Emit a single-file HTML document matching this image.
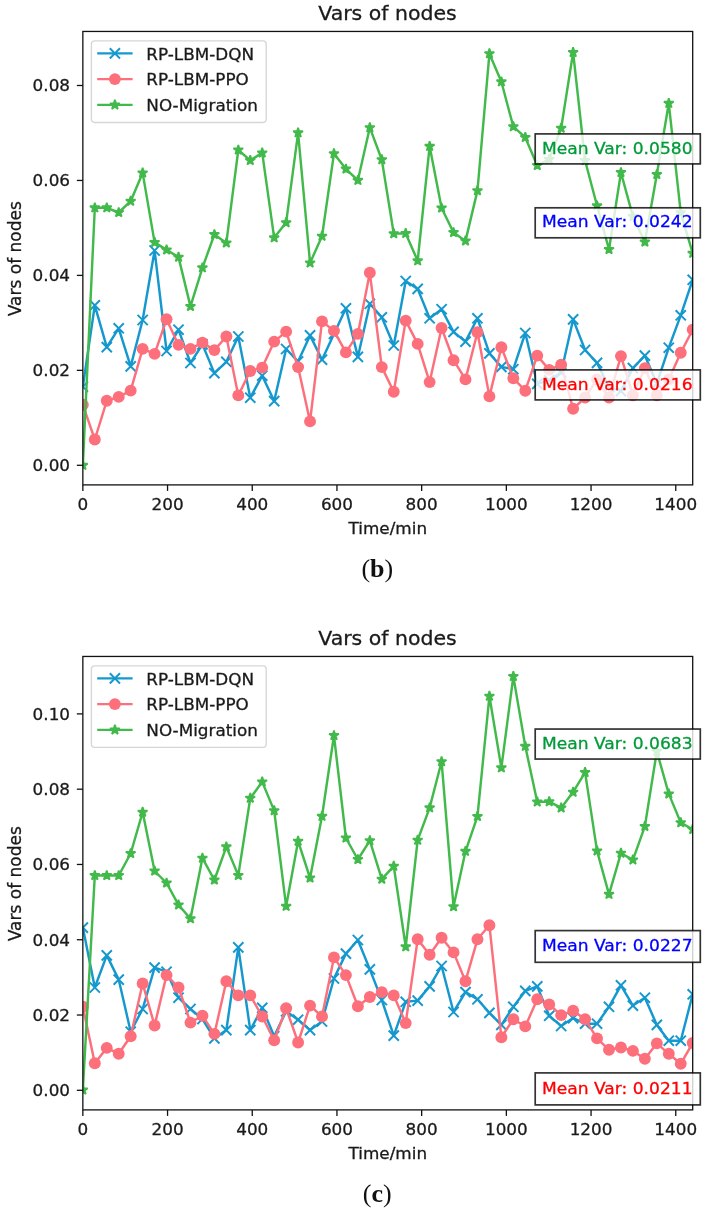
<!DOCTYPE html>
<html><head><meta charset="utf-8"><title>Vars of nodes</title>
<style>
html,body{margin:0;padding:0;background:#fff;}
svg{display:block;font-family:"DejaVu Sans", "Liberation Sans", sans-serif;will-change:transform;}
</style></head>
<body>
<svg width="707" height="1215" viewBox="0 0 707 1215">
<rect width="707" height="1215" fill="#fff"/>
<clipPath id="clip1"><rect x="82.85" y="31.45" width="609.85" height="453.45"/></clipPath>
<text transform="translate(387.48,19.90) scale(1.035,1)" font-size="19.8" text-anchor="middle" fill="#1a1a1a" stroke="#1a1a1a" stroke-width="0.3">Vars of nodes</text>
<g clip-path="url(#clip1)">
<polyline points="82.85,386.70 94.81,305.30 106.77,347.10 118.72,328.30 130.68,366.40 142.64,320.00 154.60,250.50 166.55,351.00 178.51,329.70 190.47,363.00 202.43,344.40 214.39,373.10 226.34,361.80 238.30,336.50 250.26,397.70 262.22,375.70 274.18,401.10 286.13,349.00 298.09,361.50 310.05,335.40 322.01,359.70 333.96,333.90 345.92,308.30 357.88,356.90 369.84,303.80 381.80,317.30 393.75,345.50 405.71,281.00 417.67,288.90 429.63,318.30 441.59,309.20 453.54,331.90 465.50,341.60 477.46,318.30 489.42,353.40 501.37,366.90 513.33,369.20 525.29,333.00 537.25,383.90 549.21,380.40 561.16,372.60 573.12,319.40 585.08,350.00 597.04,362.90 609.00,387.10 620.95,391.20 632.91,368.10 644.87,355.60 656.83,383.50 668.78,347.70 680.74,315.30 692.70,279.80" fill="none" stroke="#1598ce" stroke-width="2.45" stroke-linejoin="round" stroke-linecap="square"/>
<path d="M77.75,381.60L87.95,391.80M77.75,391.80L87.95,381.60" stroke="#1598ce" stroke-width="1.95" fill="none"/>
<path d="M89.71,300.20L99.91,310.40M89.71,310.40L99.91,300.20" stroke="#1598ce" stroke-width="1.95" fill="none"/>
<path d="M101.67,342.00L111.87,352.20M101.67,352.20L111.87,342.00" stroke="#1598ce" stroke-width="1.95" fill="none"/>
<path d="M113.62,323.20L123.82,333.40M113.62,333.40L123.82,323.20" stroke="#1598ce" stroke-width="1.95" fill="none"/>
<path d="M125.58,361.30L135.78,371.50M125.58,371.50L135.78,361.30" stroke="#1598ce" stroke-width="1.95" fill="none"/>
<path d="M137.54,314.90L147.74,325.10M137.54,325.10L147.74,314.90" stroke="#1598ce" stroke-width="1.95" fill="none"/>
<path d="M149.50,245.40L159.70,255.60M149.50,255.60L159.70,245.40" stroke="#1598ce" stroke-width="1.95" fill="none"/>
<path d="M161.45,345.90L171.65,356.10M161.45,356.10L171.65,345.90" stroke="#1598ce" stroke-width="1.95" fill="none"/>
<path d="M173.41,324.60L183.61,334.80M173.41,334.80L183.61,324.60" stroke="#1598ce" stroke-width="1.95" fill="none"/>
<path d="M185.37,357.90L195.57,368.10M185.37,368.10L195.57,357.90" stroke="#1598ce" stroke-width="1.95" fill="none"/>
<path d="M197.33,339.30L207.53,349.50M197.33,349.50L207.53,339.30" stroke="#1598ce" stroke-width="1.95" fill="none"/>
<path d="M209.29,368.00L219.49,378.20M209.29,378.20L219.49,368.00" stroke="#1598ce" stroke-width="1.95" fill="none"/>
<path d="M221.24,356.70L231.44,366.90M221.24,366.90L231.44,356.70" stroke="#1598ce" stroke-width="1.95" fill="none"/>
<path d="M233.20,331.40L243.40,341.60M233.20,341.60L243.40,331.40" stroke="#1598ce" stroke-width="1.95" fill="none"/>
<path d="M245.16,392.60L255.36,402.80M245.16,402.80L255.36,392.60" stroke="#1598ce" stroke-width="1.95" fill="none"/>
<path d="M257.12,370.60L267.32,380.80M257.12,380.80L267.32,370.60" stroke="#1598ce" stroke-width="1.95" fill="none"/>
<path d="M269.08,396.00L279.28,406.20M269.08,406.20L279.28,396.00" stroke="#1598ce" stroke-width="1.95" fill="none"/>
<path d="M281.03,343.90L291.23,354.10M281.03,354.10L291.23,343.90" stroke="#1598ce" stroke-width="1.95" fill="none"/>
<path d="M292.99,356.40L303.19,366.60M292.99,366.60L303.19,356.40" stroke="#1598ce" stroke-width="1.95" fill="none"/>
<path d="M304.95,330.30L315.15,340.50M304.95,340.50L315.15,330.30" stroke="#1598ce" stroke-width="1.95" fill="none"/>
<path d="M316.91,354.60L327.11,364.80M316.91,364.80L327.11,354.60" stroke="#1598ce" stroke-width="1.95" fill="none"/>
<path d="M328.86,328.80L339.06,339.00M328.86,339.00L339.06,328.80" stroke="#1598ce" stroke-width="1.95" fill="none"/>
<path d="M340.82,303.20L351.02,313.40M340.82,313.40L351.02,303.20" stroke="#1598ce" stroke-width="1.95" fill="none"/>
<path d="M352.78,351.80L362.98,362.00M352.78,362.00L362.98,351.80" stroke="#1598ce" stroke-width="1.95" fill="none"/>
<path d="M364.74,298.70L374.94,308.90M364.74,308.90L374.94,298.70" stroke="#1598ce" stroke-width="1.95" fill="none"/>
<path d="M376.70,312.20L386.90,322.40M376.70,322.40L386.90,312.20" stroke="#1598ce" stroke-width="1.95" fill="none"/>
<path d="M388.65,340.40L398.85,350.60M388.65,350.60L398.85,340.40" stroke="#1598ce" stroke-width="1.95" fill="none"/>
<path d="M400.61,275.90L410.81,286.10M400.61,286.10L410.81,275.90" stroke="#1598ce" stroke-width="1.95" fill="none"/>
<path d="M412.57,283.80L422.77,294.00M412.57,294.00L422.77,283.80" stroke="#1598ce" stroke-width="1.95" fill="none"/>
<path d="M424.53,313.20L434.73,323.40M424.53,323.40L434.73,313.20" stroke="#1598ce" stroke-width="1.95" fill="none"/>
<path d="M436.49,304.10L446.69,314.30M436.49,314.30L446.69,304.10" stroke="#1598ce" stroke-width="1.95" fill="none"/>
<path d="M448.44,326.80L458.64,337.00M448.44,337.00L458.64,326.80" stroke="#1598ce" stroke-width="1.95" fill="none"/>
<path d="M460.40,336.50L470.60,346.70M460.40,346.70L470.60,336.50" stroke="#1598ce" stroke-width="1.95" fill="none"/>
<path d="M472.36,313.20L482.56,323.40M472.36,323.40L482.56,313.20" stroke="#1598ce" stroke-width="1.95" fill="none"/>
<path d="M484.32,348.30L494.52,358.50M484.32,358.50L494.52,348.30" stroke="#1598ce" stroke-width="1.95" fill="none"/>
<path d="M496.27,361.80L506.47,372.00M496.27,372.00L506.47,361.80" stroke="#1598ce" stroke-width="1.95" fill="none"/>
<path d="M508.23,364.10L518.43,374.30M508.23,374.30L518.43,364.10" stroke="#1598ce" stroke-width="1.95" fill="none"/>
<path d="M520.19,327.90L530.39,338.10M520.19,338.10L530.39,327.90" stroke="#1598ce" stroke-width="1.95" fill="none"/>
<path d="M532.15,378.80L542.35,389.00M532.15,389.00L542.35,378.80" stroke="#1598ce" stroke-width="1.95" fill="none"/>
<path d="M544.11,375.30L554.31,385.50M544.11,385.50L554.31,375.30" stroke="#1598ce" stroke-width="1.95" fill="none"/>
<path d="M556.06,367.50L566.26,377.70M556.06,377.70L566.26,367.50" stroke="#1598ce" stroke-width="1.95" fill="none"/>
<path d="M568.02,314.30L578.22,324.50M568.02,324.50L578.22,314.30" stroke="#1598ce" stroke-width="1.95" fill="none"/>
<path d="M579.98,344.90L590.18,355.10M579.98,355.10L590.18,344.90" stroke="#1598ce" stroke-width="1.95" fill="none"/>
<path d="M591.94,357.80L602.14,368.00M591.94,368.00L602.14,357.80" stroke="#1598ce" stroke-width="1.95" fill="none"/>
<path d="M603.90,382.00L614.10,392.20M603.90,392.20L614.10,382.00" stroke="#1598ce" stroke-width="1.95" fill="none"/>
<path d="M615.85,386.10L626.05,396.30M615.85,396.30L626.05,386.10" stroke="#1598ce" stroke-width="1.95" fill="none"/>
<path d="M627.81,363.00L638.01,373.20M627.81,373.20L638.01,363.00" stroke="#1598ce" stroke-width="1.95" fill="none"/>
<path d="M639.77,350.50L649.97,360.70M639.77,360.70L649.97,350.50" stroke="#1598ce" stroke-width="1.95" fill="none"/>
<path d="M651.73,378.40L661.93,388.60M651.73,388.60L661.93,378.40" stroke="#1598ce" stroke-width="1.95" fill="none"/>
<path d="M663.68,342.60L673.88,352.80M663.68,352.80L673.88,342.60" stroke="#1598ce" stroke-width="1.95" fill="none"/>
<path d="M675.64,310.20L685.84,320.40M675.64,320.40L685.84,310.20" stroke="#1598ce" stroke-width="1.95" fill="none"/>
<path d="M687.60,274.70L697.80,284.90M687.60,284.90L697.80,274.70" stroke="#1598ce" stroke-width="1.95" fill="none"/>
</g>
<g clip-path="url(#clip1)">
<polyline points="82.85,404.80 94.81,439.50 106.77,400.80 118.72,396.90 130.68,390.60 142.64,348.90 154.60,353.90 166.55,319.30 178.51,344.90 190.47,348.90 202.43,342.60 214.39,350.10 226.34,336.50 238.30,395.40 250.26,371.00 262.22,367.60 274.18,341.60 286.13,331.60 298.09,367.10 310.05,421.40 322.01,321.40 333.96,330.90 345.92,352.40 357.88,333.90 369.84,272.80 381.80,367.10 393.75,391.70 405.71,320.60 417.67,343.90 429.63,382.10 441.59,328.00 453.54,360.20 465.50,379.40 477.46,332.30 489.42,396.40 501.37,347.30 513.33,378.30 525.29,390.70 537.25,355.60 549.21,369.90 561.16,364.70 573.12,408.80 585.08,397.50 597.04,379.40 609.00,397.50 620.95,356.10 632.91,395.20 644.87,368.10 656.83,395.20 668.78,379.40 680.74,352.70 692.70,329.60" fill="none" stroke="#fc6f7b" stroke-width="2.45" stroke-linejoin="round" stroke-linecap="square"/>
<circle cx="82.85" cy="404.80" r="5.95" fill="#fc6f7b"/>
<circle cx="94.81" cy="439.50" r="5.95" fill="#fc6f7b"/>
<circle cx="106.77" cy="400.80" r="5.95" fill="#fc6f7b"/>
<circle cx="118.72" cy="396.90" r="5.95" fill="#fc6f7b"/>
<circle cx="130.68" cy="390.60" r="5.95" fill="#fc6f7b"/>
<circle cx="142.64" cy="348.90" r="5.95" fill="#fc6f7b"/>
<circle cx="154.60" cy="353.90" r="5.95" fill="#fc6f7b"/>
<circle cx="166.55" cy="319.30" r="5.95" fill="#fc6f7b"/>
<circle cx="178.51" cy="344.90" r="5.95" fill="#fc6f7b"/>
<circle cx="190.47" cy="348.90" r="5.95" fill="#fc6f7b"/>
<circle cx="202.43" cy="342.60" r="5.95" fill="#fc6f7b"/>
<circle cx="214.39" cy="350.10" r="5.95" fill="#fc6f7b"/>
<circle cx="226.34" cy="336.50" r="5.95" fill="#fc6f7b"/>
<circle cx="238.30" cy="395.40" r="5.95" fill="#fc6f7b"/>
<circle cx="250.26" cy="371.00" r="5.95" fill="#fc6f7b"/>
<circle cx="262.22" cy="367.60" r="5.95" fill="#fc6f7b"/>
<circle cx="274.18" cy="341.60" r="5.95" fill="#fc6f7b"/>
<circle cx="286.13" cy="331.60" r="5.95" fill="#fc6f7b"/>
<circle cx="298.09" cy="367.10" r="5.95" fill="#fc6f7b"/>
<circle cx="310.05" cy="421.40" r="5.95" fill="#fc6f7b"/>
<circle cx="322.01" cy="321.40" r="5.95" fill="#fc6f7b"/>
<circle cx="333.96" cy="330.90" r="5.95" fill="#fc6f7b"/>
<circle cx="345.92" cy="352.40" r="5.95" fill="#fc6f7b"/>
<circle cx="357.88" cy="333.90" r="5.95" fill="#fc6f7b"/>
<circle cx="369.84" cy="272.80" r="5.95" fill="#fc6f7b"/>
<circle cx="381.80" cy="367.10" r="5.95" fill="#fc6f7b"/>
<circle cx="393.75" cy="391.70" r="5.95" fill="#fc6f7b"/>
<circle cx="405.71" cy="320.60" r="5.95" fill="#fc6f7b"/>
<circle cx="417.67" cy="343.90" r="5.95" fill="#fc6f7b"/>
<circle cx="429.63" cy="382.10" r="5.95" fill="#fc6f7b"/>
<circle cx="441.59" cy="328.00" r="5.95" fill="#fc6f7b"/>
<circle cx="453.54" cy="360.20" r="5.95" fill="#fc6f7b"/>
<circle cx="465.50" cy="379.40" r="5.95" fill="#fc6f7b"/>
<circle cx="477.46" cy="332.30" r="5.95" fill="#fc6f7b"/>
<circle cx="489.42" cy="396.40" r="5.95" fill="#fc6f7b"/>
<circle cx="501.37" cy="347.30" r="5.95" fill="#fc6f7b"/>
<circle cx="513.33" cy="378.30" r="5.95" fill="#fc6f7b"/>
<circle cx="525.29" cy="390.70" r="5.95" fill="#fc6f7b"/>
<circle cx="537.25" cy="355.60" r="5.95" fill="#fc6f7b"/>
<circle cx="549.21" cy="369.90" r="5.95" fill="#fc6f7b"/>
<circle cx="561.16" cy="364.70" r="5.95" fill="#fc6f7b"/>
<circle cx="573.12" cy="408.80" r="5.95" fill="#fc6f7b"/>
<circle cx="585.08" cy="397.50" r="5.95" fill="#fc6f7b"/>
<circle cx="597.04" cy="379.40" r="5.95" fill="#fc6f7b"/>
<circle cx="609.00" cy="397.50" r="5.95" fill="#fc6f7b"/>
<circle cx="620.95" cy="356.10" r="5.95" fill="#fc6f7b"/>
<circle cx="632.91" cy="395.20" r="5.95" fill="#fc6f7b"/>
<circle cx="644.87" cy="368.10" r="5.95" fill="#fc6f7b"/>
<circle cx="656.83" cy="395.20" r="5.95" fill="#fc6f7b"/>
<circle cx="668.78" cy="379.40" r="5.95" fill="#fc6f7b"/>
<circle cx="680.74" cy="352.70" r="5.95" fill="#fc6f7b"/>
<circle cx="692.70" cy="329.60" r="5.95" fill="#fc6f7b"/>
</g>
<g clip-path="url(#clip1)">
<polyline points="82.85,465.30 94.81,207.80 106.77,207.80 118.72,212.50 130.68,201.20 142.64,172.90 154.60,242.40 166.55,249.90 178.51,257.10 190.47,306.40 202.43,267.80 214.39,234.50 226.34,242.90 238.30,150.00 250.26,160.40 262.22,152.90 274.18,237.80 286.13,222.60 298.09,132.80 310.05,262.90 322.01,236.20 333.96,153.60 345.92,169.00 357.88,180.30 369.84,127.60 381.80,159.70 393.75,233.60 405.71,233.40 417.67,260.80 429.63,146.30 441.59,208.00 453.54,232.50 465.50,240.90 477.46,190.60 489.42,53.70 501.37,81.80 513.33,126.60 525.29,137.40 537.25,165.50 549.21,159.40 561.16,128.20 573.12,52.40 585.08,160.50 597.04,205.80 609.00,249.50 620.95,172.50 632.91,216.40 644.87,242.00 656.83,174.50 668.78,103.30 680.74,212.60 692.70,253.30" fill="none" stroke="#42ba4b" stroke-width="2.45" stroke-linejoin="round" stroke-linecap="square"/>
<polygon points="82.85,460.20 84.00,463.72 87.70,463.72 84.70,465.90 85.85,469.43 82.85,467.25 79.85,469.43 81.00,465.90 78.00,463.72 81.70,463.72" fill="#42ba4b" stroke="#42ba4b" stroke-width="1.7" stroke-linejoin="bevel"/>
<polygon points="94.81,202.70 95.95,206.22 99.66,206.22 96.66,208.40 97.81,211.93 94.81,209.75 91.81,211.93 92.96,208.40 89.96,206.22 93.66,206.22" fill="#42ba4b" stroke="#42ba4b" stroke-width="1.7" stroke-linejoin="bevel"/>
<polygon points="106.77,202.70 107.91,206.22 111.62,206.22 108.62,208.40 109.76,211.93 106.77,209.75 103.77,211.93 104.91,208.40 101.92,206.22 105.62,206.22" fill="#42ba4b" stroke="#42ba4b" stroke-width="1.7" stroke-linejoin="bevel"/>
<polygon points="118.72,207.40 119.87,210.92 123.57,210.92 120.58,213.10 121.72,216.63 118.72,214.45 115.73,216.63 116.87,213.10 113.87,210.92 117.58,210.92" fill="#42ba4b" stroke="#42ba4b" stroke-width="1.7" stroke-linejoin="bevel"/>
<polygon points="130.68,196.10 131.83,199.62 135.53,199.62 132.53,201.80 133.68,205.33 130.68,203.15 127.68,205.33 128.83,201.80 125.83,199.62 129.54,199.62" fill="#42ba4b" stroke="#42ba4b" stroke-width="1.7" stroke-linejoin="bevel"/>
<polygon points="142.64,167.80 143.78,171.32 147.49,171.32 144.49,173.50 145.64,177.03 142.64,174.85 139.64,177.03 140.79,173.50 137.79,171.32 141.49,171.32" fill="#42ba4b" stroke="#42ba4b" stroke-width="1.7" stroke-linejoin="bevel"/>
<polygon points="154.60,237.30 155.74,240.82 159.45,240.82 156.45,243.00 157.59,246.53 154.60,244.35 151.60,246.53 152.74,243.00 149.75,240.82 153.45,240.82" fill="#42ba4b" stroke="#42ba4b" stroke-width="1.7" stroke-linejoin="bevel"/>
<polygon points="166.55,244.80 167.70,248.32 171.41,248.32 168.41,250.50 169.55,254.03 166.55,251.85 163.56,254.03 164.70,250.50 161.70,248.32 165.41,248.32" fill="#42ba4b" stroke="#42ba4b" stroke-width="1.7" stroke-linejoin="bevel"/>
<polygon points="178.51,252.00 179.66,255.52 183.36,255.52 180.37,257.70 181.51,261.23 178.51,259.05 175.52,261.23 176.66,257.70 173.66,255.52 177.37,255.52" fill="#42ba4b" stroke="#42ba4b" stroke-width="1.7" stroke-linejoin="bevel"/>
<polygon points="190.47,301.30 191.62,304.82 195.32,304.82 192.32,307.00 193.47,310.53 190.47,308.35 187.47,310.53 188.62,307.00 185.62,304.82 189.33,304.82" fill="#42ba4b" stroke="#42ba4b" stroke-width="1.7" stroke-linejoin="bevel"/>
<polygon points="202.43,262.70 203.57,266.22 207.28,266.22 204.28,268.40 205.43,271.93 202.43,269.75 199.43,271.93 200.58,268.40 197.58,266.22 201.28,266.22" fill="#42ba4b" stroke="#42ba4b" stroke-width="1.7" stroke-linejoin="bevel"/>
<polygon points="214.39,229.40 215.53,232.92 219.24,232.92 216.24,235.10 217.38,238.63 214.39,236.45 211.39,238.63 212.53,235.10 209.54,232.92 213.24,232.92" fill="#42ba4b" stroke="#42ba4b" stroke-width="1.7" stroke-linejoin="bevel"/>
<polygon points="226.34,237.80 227.49,241.32 231.19,241.32 228.20,243.50 229.34,247.03 226.34,244.85 223.35,247.03 224.49,243.50 221.49,241.32 225.20,241.32" fill="#42ba4b" stroke="#42ba4b" stroke-width="1.7" stroke-linejoin="bevel"/>
<polygon points="238.30,144.90 239.45,148.42 243.15,148.42 240.15,150.60 241.30,154.13 238.30,151.95 235.30,154.13 236.45,150.60 233.45,148.42 237.16,148.42" fill="#42ba4b" stroke="#42ba4b" stroke-width="1.7" stroke-linejoin="bevel"/>
<polygon points="250.26,155.30 251.40,158.82 255.11,158.82 252.11,161.00 253.26,164.53 250.26,162.35 247.26,164.53 248.41,161.00 245.41,158.82 249.11,158.82" fill="#42ba4b" stroke="#42ba4b" stroke-width="1.7" stroke-linejoin="bevel"/>
<polygon points="262.22,147.80 263.36,151.32 267.07,151.32 264.07,153.50 265.22,157.03 262.22,154.85 259.22,157.03 260.36,153.50 257.37,151.32 261.07,151.32" fill="#42ba4b" stroke="#42ba4b" stroke-width="1.7" stroke-linejoin="bevel"/>
<polygon points="274.18,232.70 275.32,236.22 279.03,236.22 276.03,238.40 277.17,241.93 274.18,239.75 271.18,241.93 272.32,238.40 269.33,236.22 273.03,236.22" fill="#42ba4b" stroke="#42ba4b" stroke-width="1.7" stroke-linejoin="bevel"/>
<polygon points="286.13,217.50 287.28,221.02 290.98,221.02 287.99,223.20 289.13,226.73 286.13,224.55 283.14,226.73 284.28,223.20 281.28,221.02 284.99,221.02" fill="#42ba4b" stroke="#42ba4b" stroke-width="1.7" stroke-linejoin="bevel"/>
<polygon points="298.09,127.70 299.24,131.22 302.94,131.22 299.94,133.40 301.09,136.93 298.09,134.75 295.09,136.93 296.24,133.40 293.24,131.22 296.95,131.22" fill="#42ba4b" stroke="#42ba4b" stroke-width="1.7" stroke-linejoin="bevel"/>
<polygon points="310.05,257.80 311.19,261.32 314.90,261.32 311.90,263.50 313.05,267.03 310.05,264.85 307.05,267.03 308.20,263.50 305.20,261.32 308.90,261.32" fill="#42ba4b" stroke="#42ba4b" stroke-width="1.7" stroke-linejoin="bevel"/>
<polygon points="322.01,231.10 323.15,234.62 326.86,234.62 323.86,236.80 325.00,240.33 322.01,238.15 319.01,240.33 320.15,236.80 317.16,234.62 320.86,234.62" fill="#42ba4b" stroke="#42ba4b" stroke-width="1.7" stroke-linejoin="bevel"/>
<polygon points="333.96,148.50 335.11,152.02 338.82,152.02 335.82,154.20 336.96,157.73 333.96,155.55 330.97,157.73 332.11,154.20 329.11,152.02 332.82,152.02" fill="#42ba4b" stroke="#42ba4b" stroke-width="1.7" stroke-linejoin="bevel"/>
<polygon points="345.92,163.90 347.07,167.42 350.77,167.42 347.78,169.60 348.92,173.13 345.92,170.95 342.92,173.13 344.07,169.60 341.07,167.42 344.78,167.42" fill="#42ba4b" stroke="#42ba4b" stroke-width="1.7" stroke-linejoin="bevel"/>
<polygon points="357.88,175.20 359.03,178.72 362.73,178.72 359.73,180.90 360.88,184.43 357.88,182.25 354.88,184.43 356.03,180.90 353.03,178.72 356.74,178.72" fill="#42ba4b" stroke="#42ba4b" stroke-width="1.7" stroke-linejoin="bevel"/>
<polygon points="369.84,122.50 370.98,126.02 374.69,126.02 371.69,128.20 372.84,131.73 369.84,129.55 366.84,131.73 367.99,128.20 364.99,126.02 368.69,126.02" fill="#42ba4b" stroke="#42ba4b" stroke-width="1.7" stroke-linejoin="bevel"/>
<polygon points="381.80,154.60 382.94,158.12 386.65,158.12 383.65,160.30 384.79,163.83 381.80,161.65 378.80,163.83 379.94,160.30 376.95,158.12 380.65,158.12" fill="#42ba4b" stroke="#42ba4b" stroke-width="1.7" stroke-linejoin="bevel"/>
<polygon points="393.75,228.50 394.90,232.02 398.60,232.02 395.61,234.20 396.75,237.73 393.75,235.55 390.76,237.73 391.90,234.20 388.90,232.02 392.61,232.02" fill="#42ba4b" stroke="#42ba4b" stroke-width="1.7" stroke-linejoin="bevel"/>
<polygon points="405.71,228.30 406.86,231.82 410.56,231.82 407.56,234.00 408.71,237.53 405.71,235.35 402.71,237.53 403.86,234.00 400.86,231.82 404.57,231.82" fill="#42ba4b" stroke="#42ba4b" stroke-width="1.7" stroke-linejoin="bevel"/>
<polygon points="417.67,255.70 418.81,259.22 422.52,259.22 419.52,261.40 420.67,264.93 417.67,262.75 414.67,264.93 415.82,261.40 412.82,259.22 416.52,259.22" fill="#42ba4b" stroke="#42ba4b" stroke-width="1.7" stroke-linejoin="bevel"/>
<polygon points="429.63,141.20 430.77,144.72 434.48,144.72 431.48,146.90 432.63,150.43 429.63,148.25 426.63,150.43 427.77,146.90 424.78,144.72 428.48,144.72" fill="#42ba4b" stroke="#42ba4b" stroke-width="1.7" stroke-linejoin="bevel"/>
<polygon points="441.59,202.90 442.73,206.42 446.44,206.42 443.44,208.60 444.58,212.13 441.59,209.95 438.59,212.13 439.73,208.60 436.73,206.42 440.44,206.42" fill="#42ba4b" stroke="#42ba4b" stroke-width="1.7" stroke-linejoin="bevel"/>
<polygon points="453.54,227.40 454.69,230.92 458.39,230.92 455.40,233.10 456.54,236.63 453.54,234.45 450.55,236.63 451.69,233.10 448.69,230.92 452.40,230.92" fill="#42ba4b" stroke="#42ba4b" stroke-width="1.7" stroke-linejoin="bevel"/>
<polygon points="465.50,235.80 466.65,239.32 470.35,239.32 467.35,241.50 468.50,245.03 465.50,242.85 462.50,245.03 463.65,241.50 460.65,239.32 464.36,239.32" fill="#42ba4b" stroke="#42ba4b" stroke-width="1.7" stroke-linejoin="bevel"/>
<polygon points="477.46,185.50 478.60,189.02 482.31,189.02 479.31,191.20 480.46,194.73 477.46,192.55 474.46,194.73 475.61,191.20 472.61,189.02 476.31,189.02" fill="#42ba4b" stroke="#42ba4b" stroke-width="1.7" stroke-linejoin="bevel"/>
<polygon points="489.42,48.60 490.56,52.12 494.27,52.12 491.27,54.30 492.41,57.83 489.42,55.65 486.42,57.83 487.56,54.30 484.57,52.12 488.27,52.12" fill="#42ba4b" stroke="#42ba4b" stroke-width="1.7" stroke-linejoin="bevel"/>
<polygon points="501.37,76.70 502.52,80.22 506.22,80.22 503.23,82.40 504.37,85.93 501.37,83.75 498.38,85.93 499.52,82.40 496.52,80.22 500.23,80.22" fill="#42ba4b" stroke="#42ba4b" stroke-width="1.7" stroke-linejoin="bevel"/>
<polygon points="513.33,121.50 514.48,125.02 518.18,125.02 515.19,127.20 516.33,130.73 513.33,128.55 510.33,130.73 511.48,127.20 508.48,125.02 512.19,125.02" fill="#42ba4b" stroke="#42ba4b" stroke-width="1.7" stroke-linejoin="bevel"/>
<polygon points="525.29,132.30 526.44,135.82 530.14,135.82 527.14,138.00 528.29,141.53 525.29,139.35 522.29,141.53 523.44,138.00 520.44,135.82 524.15,135.82" fill="#42ba4b" stroke="#42ba4b" stroke-width="1.7" stroke-linejoin="bevel"/>
<polygon points="537.25,160.40 538.39,163.92 542.10,163.92 539.10,166.10 540.25,169.63 537.25,167.45 534.25,169.63 535.40,166.10 532.40,163.92 536.10,163.92" fill="#42ba4b" stroke="#42ba4b" stroke-width="1.7" stroke-linejoin="bevel"/>
<polygon points="549.21,154.30 550.35,157.82 554.06,157.82 551.06,160.00 552.20,163.53 549.21,161.35 546.21,163.53 547.35,160.00 544.36,157.82 548.06,157.82" fill="#42ba4b" stroke="#42ba4b" stroke-width="1.7" stroke-linejoin="bevel"/>
<polygon points="561.16,123.10 562.31,126.62 566.01,126.62 563.02,128.80 564.16,132.33 561.16,130.15 558.17,132.33 559.31,128.80 556.31,126.62 560.02,126.62" fill="#42ba4b" stroke="#42ba4b" stroke-width="1.7" stroke-linejoin="bevel"/>
<polygon points="573.12,47.30 574.27,50.82 577.97,50.82 574.97,53.00 576.12,56.53 573.12,54.35 570.12,56.53 571.27,53.00 568.27,50.82 571.98,50.82" fill="#42ba4b" stroke="#42ba4b" stroke-width="1.7" stroke-linejoin="bevel"/>
<polygon points="585.08,155.40 586.22,158.92 589.93,158.92 586.93,161.10 588.08,164.63 585.08,162.45 582.08,164.63 583.23,161.10 580.23,158.92 583.93,158.92" fill="#42ba4b" stroke="#42ba4b" stroke-width="1.7" stroke-linejoin="bevel"/>
<polygon points="597.04,200.70 598.18,204.22 601.89,204.22 598.89,206.40 600.03,209.93 597.04,207.75 594.04,209.93 595.18,206.40 592.19,204.22 595.89,204.22" fill="#42ba4b" stroke="#42ba4b" stroke-width="1.7" stroke-linejoin="bevel"/>
<polygon points="609.00,244.40 610.14,247.92 613.85,247.92 610.85,250.10 611.99,253.63 609.00,251.45 606.00,253.63 607.14,250.10 604.14,247.92 607.85,247.92" fill="#42ba4b" stroke="#42ba4b" stroke-width="1.7" stroke-linejoin="bevel"/>
<polygon points="620.95,167.40 622.10,170.92 625.80,170.92 622.81,173.10 623.95,176.63 620.95,174.45 617.96,176.63 619.10,173.10 616.10,170.92 619.81,170.92" fill="#42ba4b" stroke="#42ba4b" stroke-width="1.7" stroke-linejoin="bevel"/>
<polygon points="632.91,211.30 634.06,214.82 637.76,214.82 634.76,217.00 635.91,220.53 632.91,218.35 629.91,220.53 631.06,217.00 628.06,214.82 631.77,214.82" fill="#42ba4b" stroke="#42ba4b" stroke-width="1.7" stroke-linejoin="bevel"/>
<polygon points="644.87,236.90 646.01,240.42 649.72,240.42 646.72,242.60 647.87,246.13 644.87,243.95 641.87,246.13 643.02,242.60 640.02,240.42 643.72,240.42" fill="#42ba4b" stroke="#42ba4b" stroke-width="1.7" stroke-linejoin="bevel"/>
<polygon points="656.83,169.40 657.97,172.92 661.68,172.92 658.68,175.10 659.82,178.63 656.83,176.45 653.83,178.63 654.97,175.10 651.98,172.92 655.68,172.92" fill="#42ba4b" stroke="#42ba4b" stroke-width="1.7" stroke-linejoin="bevel"/>
<polygon points="668.78,98.20 669.93,101.72 673.63,101.72 670.64,103.90 671.78,107.43 668.78,105.25 665.79,107.43 666.93,103.90 663.93,101.72 667.64,101.72" fill="#42ba4b" stroke="#42ba4b" stroke-width="1.7" stroke-linejoin="bevel"/>
<polygon points="680.74,207.50 681.89,211.02 685.59,211.02 682.59,213.20 683.74,216.73 680.74,214.55 677.74,216.73 678.89,213.20 675.89,211.02 679.60,211.02" fill="#42ba4b" stroke="#42ba4b" stroke-width="1.7" stroke-linejoin="bevel"/>
<polygon points="692.70,248.20 693.85,251.72 697.55,251.72 694.55,253.90 695.70,257.43 692.70,255.25 689.70,257.43 690.85,253.90 687.85,251.72 691.55,251.72" fill="#42ba4b" stroke="#42ba4b" stroke-width="1.7" stroke-linejoin="bevel"/>
</g>
<rect x="82.85" y="31.45" width="609.85" height="453.45" fill="none" stroke="#111" stroke-width="1.3"/>
<line x1="76.85" x2="82.85" y1="465.30" y2="465.30" stroke="#111" stroke-width="1.3"/>
<text transform="translate(70.05,471.10) scale(1.02,1)" font-size="16.5" text-anchor="end" fill="#1a1a1a" stroke="#1a1a1a" stroke-width="0.3">0.00</text>
<line x1="76.85" x2="82.85" y1="370.35" y2="370.35" stroke="#111" stroke-width="1.3"/>
<text transform="translate(70.05,376.15) scale(1.02,1)" font-size="16.5" text-anchor="end" fill="#1a1a1a" stroke="#1a1a1a" stroke-width="0.3">0.02</text>
<line x1="76.85" x2="82.85" y1="275.40" y2="275.40" stroke="#111" stroke-width="1.3"/>
<text transform="translate(70.05,281.20) scale(1.02,1)" font-size="16.5" text-anchor="end" fill="#1a1a1a" stroke="#1a1a1a" stroke-width="0.3">0.04</text>
<line x1="76.85" x2="82.85" y1="180.45" y2="180.45" stroke="#111" stroke-width="1.3"/>
<text transform="translate(70.05,186.25) scale(1.02,1)" font-size="16.5" text-anchor="end" fill="#1a1a1a" stroke="#1a1a1a" stroke-width="0.3">0.06</text>
<line x1="76.85" x2="82.85" y1="85.50" y2="85.50" stroke="#111" stroke-width="1.3"/>
<text transform="translate(70.05,91.30) scale(1.02,1)" font-size="16.5" text-anchor="end" fill="#1a1a1a" stroke="#1a1a1a" stroke-width="0.3">0.08</text>
<line x1="82.85" x2="82.85" y1="484.9" y2="490.9" stroke="#111" stroke-width="1.3"/>
<text transform="translate(82.85,509.70) scale(1.02,1)" font-size="16.5" text-anchor="middle" fill="#1a1a1a" stroke="#1a1a1a" stroke-width="0.3">0</text>
<line x1="167.55" x2="167.55" y1="484.9" y2="490.9" stroke="#111" stroke-width="1.3"/>
<text transform="translate(167.55,509.70) scale(1.02,1)" font-size="16.5" text-anchor="middle" fill="#1a1a1a" stroke="#1a1a1a" stroke-width="0.3">200</text>
<line x1="252.25" x2="252.25" y1="484.9" y2="490.9" stroke="#111" stroke-width="1.3"/>
<text transform="translate(252.25,509.70) scale(1.02,1)" font-size="16.5" text-anchor="middle" fill="#1a1a1a" stroke="#1a1a1a" stroke-width="0.3">400</text>
<line x1="336.95" x2="336.95" y1="484.9" y2="490.9" stroke="#111" stroke-width="1.3"/>
<text transform="translate(336.95,509.70) scale(1.02,1)" font-size="16.5" text-anchor="middle" fill="#1a1a1a" stroke="#1a1a1a" stroke-width="0.3">600</text>
<line x1="421.66" x2="421.66" y1="484.9" y2="490.9" stroke="#111" stroke-width="1.3"/>
<text transform="translate(421.66,509.70) scale(1.02,1)" font-size="16.5" text-anchor="middle" fill="#1a1a1a" stroke="#1a1a1a" stroke-width="0.3">800</text>
<line x1="506.36" x2="506.36" y1="484.9" y2="490.9" stroke="#111" stroke-width="1.3"/>
<text transform="translate(506.36,509.70) scale(1.02,1)" font-size="16.5" text-anchor="middle" fill="#1a1a1a" stroke="#1a1a1a" stroke-width="0.3">1000</text>
<line x1="591.06" x2="591.06" y1="484.9" y2="490.9" stroke="#111" stroke-width="1.3"/>
<text transform="translate(591.06,509.70) scale(1.02,1)" font-size="16.5" text-anchor="middle" fill="#1a1a1a" stroke="#1a1a1a" stroke-width="0.3">1200</text>
<line x1="675.76" x2="675.76" y1="484.9" y2="490.9" stroke="#111" stroke-width="1.3"/>
<text transform="translate(675.76,509.70) scale(1.02,1)" font-size="16.5" text-anchor="middle" fill="#1a1a1a" stroke="#1a1a1a" stroke-width="0.3">1400</text>
<text transform="translate(387.78,534.40) scale(1.02,1)" font-size="16.5" text-anchor="middle" fill="#1a1a1a" stroke="#1a1a1a" stroke-width="0.3">Time/min</text>
<text transform="translate(20.70,258.68) rotate(-90) scale(1.0,1)" font-size="17.0" text-anchor="middle" fill="#1a1a1a" stroke="#1a1a1a" stroke-width="0.3">Vars of nodes</text>
<rect x="91.4" y="40.85" width="174.8" height="81.6" rx="3.4" fill="#fff" fill-opacity="0.8" stroke="#ccc" stroke-opacity="0.8" stroke-width="1.35"/>
<line x1="97.2" x2="132.6" y1="53.35" y2="53.35" stroke="#1598ce" stroke-width="2.45"/>
<path d="M109.80,48.25L120.00,58.45M109.80,58.45L120.00,48.25" stroke="#1598ce" stroke-width="1.95" fill="none"/>
<text transform="translate(146.30,59.65) scale(1.02,1)" font-size="16.5" text-anchor="start" fill="#1a1a1a" stroke="#1a1a1a" stroke-width="0.3">RP-LBM-DQN</text>
<line x1="97.2" x2="132.6" y1="79.10" y2="79.10" stroke="#fc6f7b" stroke-width="2.45"/>
<circle cx="114.90" cy="79.10" r="5.95" fill="#fc6f7b"/>
<text transform="translate(146.30,85.40) scale(1.02,1)" font-size="16.5" text-anchor="start" fill="#1a1a1a" stroke="#1a1a1a" stroke-width="0.3">RP-LBM-PPO</text>
<line x1="97.2" x2="132.6" y1="104.85" y2="104.85" stroke="#42ba4b" stroke-width="2.45"/>
<polygon points="114.90,99.75 116.05,103.27 119.75,103.27 116.75,105.45 117.90,108.98 114.90,106.80 111.90,108.98 113.05,105.45 110.05,103.27 113.75,103.27" fill="#42ba4b" stroke="#42ba4b" stroke-width="1.7" stroke-linejoin="bevel"/>
<text transform="translate(146.30,111.15) scale(1.02,1)" font-size="16.5" text-anchor="start" fill="#1a1a1a" stroke="#1a1a1a" stroke-width="0.3">NO-Migration</text>
<rect x="535.2" y="133.90" width="165.1" height="30.0" fill="#fff" fill-opacity="0.8" stroke="#000" stroke-opacity="0.8" stroke-width="1.7"/>
<text transform="translate(541.90,153.50) scale(1.037,1)" font-size="16.5" text-anchor="start" fill="#009a38" stroke="#009a38" stroke-width="0.3">Mean Var: 0.0580</text>
<rect x="535.2" y="207.80" width="165.1" height="30.0" fill="#fff" fill-opacity="0.8" stroke="#000" stroke-opacity="0.8" stroke-width="1.7"/>
<text transform="translate(541.90,227.40) scale(1.037,1)" font-size="16.5" text-anchor="start" fill="#0000ff" stroke="#0000ff" stroke-width="0.3">Mean Var: 0.0242</text>
<rect x="535.2" y="369.90" width="165.1" height="30.0" fill="#fff" fill-opacity="0.8" stroke="#000" stroke-opacity="0.8" stroke-width="1.7"/>
<text transform="translate(541.90,389.50) scale(1.037,1)" font-size="16.5" text-anchor="start" fill="#ff0000" stroke="#ff0000" stroke-width="0.3">Mean Var: 0.0216</text>
<text transform="translate(377.3,577.3) scale(1.02,1)" font-size="25.5" text-anchor="middle" fill="#111" font-family='"Liberation Serif", "DejaVu Serif", serif'>(<tspan font-weight="bold">b</tspan>)</text>
<clipPath id="clip2"><rect x="82.85" y="656.45" width="609.85" height="453.45000000000005"/></clipPath>
<text transform="translate(387.48,645.00) scale(1.035,1)" font-size="19.8" text-anchor="middle" fill="#1a1a1a" stroke="#1a1a1a" stroke-width="0.3">Vars of nodes</text>
<g clip-path="url(#clip2)">
<polyline points="82.85,927.60 94.81,987.50 106.77,955.40 118.72,979.60 130.68,1031.70 142.64,1009.00 154.60,967.60 166.55,971.70 178.51,997.70 190.47,1009.00 202.43,1019.00 214.39,1038.40 226.34,1030.10 238.30,947.40 250.26,1030.10 262.22,1007.90 274.18,1036.20 286.13,1011.30 298.09,1019.70 310.05,1030.10 322.01,1021.50 333.96,978.50 345.92,953.60 357.88,940.00 369.84,969.40 381.80,1000.00 393.75,1035.60 405.71,1001.80 417.67,1000.60 429.63,986.40 441.59,966.00 453.54,1012.00 465.50,992.10 477.46,999.30 489.42,1012.90 501.37,1024.90 513.33,1006.80 525.29,990.90 537.25,986.40 549.21,1015.80 561.16,1026.00 573.12,1018.10 585.08,1023.70 597.04,1023.70 609.00,1006.80 620.95,985.30 632.91,1005.60 644.87,997.70 656.83,1024.90 668.78,1040.70 680.74,1040.70 692.70,994.30" fill="none" stroke="#1598ce" stroke-width="2.45" stroke-linejoin="round" stroke-linecap="square"/>
<path d="M77.75,922.50L87.95,932.70M77.75,932.70L87.95,922.50" stroke="#1598ce" stroke-width="1.95" fill="none"/>
<path d="M89.71,982.40L99.91,992.60M89.71,992.60L99.91,982.40" stroke="#1598ce" stroke-width="1.95" fill="none"/>
<path d="M101.67,950.30L111.87,960.50M101.67,960.50L111.87,950.30" stroke="#1598ce" stroke-width="1.95" fill="none"/>
<path d="M113.62,974.50L123.82,984.70M113.62,984.70L123.82,974.50" stroke="#1598ce" stroke-width="1.95" fill="none"/>
<path d="M125.58,1026.60L135.78,1036.80M125.58,1036.80L135.78,1026.60" stroke="#1598ce" stroke-width="1.95" fill="none"/>
<path d="M137.54,1003.90L147.74,1014.10M137.54,1014.10L147.74,1003.90" stroke="#1598ce" stroke-width="1.95" fill="none"/>
<path d="M149.50,962.50L159.70,972.70M149.50,972.70L159.70,962.50" stroke="#1598ce" stroke-width="1.95" fill="none"/>
<path d="M161.45,966.60L171.65,976.80M161.45,976.80L171.65,966.60" stroke="#1598ce" stroke-width="1.95" fill="none"/>
<path d="M173.41,992.60L183.61,1002.80M173.41,1002.80L183.61,992.60" stroke="#1598ce" stroke-width="1.95" fill="none"/>
<path d="M185.37,1003.90L195.57,1014.10M185.37,1014.10L195.57,1003.90" stroke="#1598ce" stroke-width="1.95" fill="none"/>
<path d="M197.33,1013.90L207.53,1024.10M197.33,1024.10L207.53,1013.90" stroke="#1598ce" stroke-width="1.95" fill="none"/>
<path d="M209.29,1033.30L219.49,1043.50M209.29,1043.50L219.49,1033.30" stroke="#1598ce" stroke-width="1.95" fill="none"/>
<path d="M221.24,1025.00L231.44,1035.20M221.24,1035.20L231.44,1025.00" stroke="#1598ce" stroke-width="1.95" fill="none"/>
<path d="M233.20,942.30L243.40,952.50M233.20,952.50L243.40,942.30" stroke="#1598ce" stroke-width="1.95" fill="none"/>
<path d="M245.16,1025.00L255.36,1035.20M245.16,1035.20L255.36,1025.00" stroke="#1598ce" stroke-width="1.95" fill="none"/>
<path d="M257.12,1002.80L267.32,1013.00M257.12,1013.00L267.32,1002.80" stroke="#1598ce" stroke-width="1.95" fill="none"/>
<path d="M269.08,1031.10L279.28,1041.30M269.08,1041.30L279.28,1031.10" stroke="#1598ce" stroke-width="1.95" fill="none"/>
<path d="M281.03,1006.20L291.23,1016.40M281.03,1016.40L291.23,1006.20" stroke="#1598ce" stroke-width="1.95" fill="none"/>
<path d="M292.99,1014.60L303.19,1024.80M292.99,1024.80L303.19,1014.60" stroke="#1598ce" stroke-width="1.95" fill="none"/>
<path d="M304.95,1025.00L315.15,1035.20M304.95,1035.20L315.15,1025.00" stroke="#1598ce" stroke-width="1.95" fill="none"/>
<path d="M316.91,1016.40L327.11,1026.60M316.91,1026.60L327.11,1016.40" stroke="#1598ce" stroke-width="1.95" fill="none"/>
<path d="M328.86,973.40L339.06,983.60M328.86,983.60L339.06,973.40" stroke="#1598ce" stroke-width="1.95" fill="none"/>
<path d="M340.82,948.50L351.02,958.70M340.82,958.70L351.02,948.50" stroke="#1598ce" stroke-width="1.95" fill="none"/>
<path d="M352.78,934.90L362.98,945.10M352.78,945.10L362.98,934.90" stroke="#1598ce" stroke-width="1.95" fill="none"/>
<path d="M364.74,964.30L374.94,974.50M364.74,974.50L374.94,964.30" stroke="#1598ce" stroke-width="1.95" fill="none"/>
<path d="M376.70,994.90L386.90,1005.10M376.70,1005.10L386.90,994.90" stroke="#1598ce" stroke-width="1.95" fill="none"/>
<path d="M388.65,1030.50L398.85,1040.70M388.65,1040.70L398.85,1030.50" stroke="#1598ce" stroke-width="1.95" fill="none"/>
<path d="M400.61,996.70L410.81,1006.90M400.61,1006.90L410.81,996.70" stroke="#1598ce" stroke-width="1.95" fill="none"/>
<path d="M412.57,995.50L422.77,1005.70M412.57,1005.70L422.77,995.50" stroke="#1598ce" stroke-width="1.95" fill="none"/>
<path d="M424.53,981.30L434.73,991.50M424.53,991.50L434.73,981.30" stroke="#1598ce" stroke-width="1.95" fill="none"/>
<path d="M436.49,960.90L446.69,971.10M436.49,971.10L446.69,960.90" stroke="#1598ce" stroke-width="1.95" fill="none"/>
<path d="M448.44,1006.90L458.64,1017.10M448.44,1017.10L458.64,1006.90" stroke="#1598ce" stroke-width="1.95" fill="none"/>
<path d="M460.40,987.00L470.60,997.20M460.40,997.20L470.60,987.00" stroke="#1598ce" stroke-width="1.95" fill="none"/>
<path d="M472.36,994.20L482.56,1004.40M472.36,1004.40L482.56,994.20" stroke="#1598ce" stroke-width="1.95" fill="none"/>
<path d="M484.32,1007.80L494.52,1018.00M484.32,1018.00L494.52,1007.80" stroke="#1598ce" stroke-width="1.95" fill="none"/>
<path d="M496.27,1019.80L506.47,1030.00M496.27,1030.00L506.47,1019.80" stroke="#1598ce" stroke-width="1.95" fill="none"/>
<path d="M508.23,1001.70L518.43,1011.90M508.23,1011.90L518.43,1001.70" stroke="#1598ce" stroke-width="1.95" fill="none"/>
<path d="M520.19,985.80L530.39,996.00M520.19,996.00L530.39,985.80" stroke="#1598ce" stroke-width="1.95" fill="none"/>
<path d="M532.15,981.30L542.35,991.50M532.15,991.50L542.35,981.30" stroke="#1598ce" stroke-width="1.95" fill="none"/>
<path d="M544.11,1010.70L554.31,1020.90M544.11,1020.90L554.31,1010.70" stroke="#1598ce" stroke-width="1.95" fill="none"/>
<path d="M556.06,1020.90L566.26,1031.10M556.06,1031.10L566.26,1020.90" stroke="#1598ce" stroke-width="1.95" fill="none"/>
<path d="M568.02,1013.00L578.22,1023.20M568.02,1023.20L578.22,1013.00" stroke="#1598ce" stroke-width="1.95" fill="none"/>
<path d="M579.98,1018.60L590.18,1028.80M579.98,1028.80L590.18,1018.60" stroke="#1598ce" stroke-width="1.95" fill="none"/>
<path d="M591.94,1018.60L602.14,1028.80M591.94,1028.80L602.14,1018.60" stroke="#1598ce" stroke-width="1.95" fill="none"/>
<path d="M603.90,1001.70L614.10,1011.90M603.90,1011.90L614.10,1001.70" stroke="#1598ce" stroke-width="1.95" fill="none"/>
<path d="M615.85,980.20L626.05,990.40M615.85,990.40L626.05,980.20" stroke="#1598ce" stroke-width="1.95" fill="none"/>
<path d="M627.81,1000.50L638.01,1010.70M627.81,1010.70L638.01,1000.50" stroke="#1598ce" stroke-width="1.95" fill="none"/>
<path d="M639.77,992.60L649.97,1002.80M639.77,1002.80L649.97,992.60" stroke="#1598ce" stroke-width="1.95" fill="none"/>
<path d="M651.73,1019.80L661.93,1030.00M651.73,1030.00L661.93,1019.80" stroke="#1598ce" stroke-width="1.95" fill="none"/>
<path d="M663.68,1035.60L673.88,1045.80M663.68,1045.80L673.88,1035.60" stroke="#1598ce" stroke-width="1.95" fill="none"/>
<path d="M675.64,1035.60L685.84,1045.80M675.64,1045.80L685.84,1035.60" stroke="#1598ce" stroke-width="1.95" fill="none"/>
<path d="M687.60,989.20L697.80,999.40M687.60,999.40L697.80,989.20" stroke="#1598ce" stroke-width="1.95" fill="none"/>
</g>
<g clip-path="url(#clip2)">
<polyline points="82.85,1006.80 94.81,1063.30 106.77,1047.90 118.72,1053.80 130.68,1036.20 142.64,983.50 154.60,1025.50 166.55,975.10 178.51,987.50 190.47,1022.60 202.43,1015.80 214.39,1033.90 226.34,981.20 238.30,995.40 250.26,995.40 262.22,1016.50 274.18,1040.30 286.13,1008.30 298.09,1042.50 310.05,1005.60 322.01,1016.50 333.96,957.40 345.92,975.10 357.88,1006.30 369.84,997.00 381.80,992.10 393.75,995.40 405.71,1023.10 417.67,939.30 429.63,954.70 441.59,937.70 453.54,952.40 465.50,981.20 477.46,939.30 489.42,925.30 501.37,1037.30 513.33,1019.20 525.29,1026.40 537.25,999.30 549.21,1004.50 561.16,1015.10 573.12,1010.80 585.08,1019.20 597.04,1038.40 609.00,1049.80 620.95,1047.50 632.91,1050.90 644.87,1058.80 656.83,1043.40 668.78,1053.80 680.74,1063.80 692.70,1043.00" fill="none" stroke="#fc6f7b" stroke-width="2.45" stroke-linejoin="round" stroke-linecap="square"/>
<circle cx="82.85" cy="1006.80" r="5.95" fill="#fc6f7b"/>
<circle cx="94.81" cy="1063.30" r="5.95" fill="#fc6f7b"/>
<circle cx="106.77" cy="1047.90" r="5.95" fill="#fc6f7b"/>
<circle cx="118.72" cy="1053.80" r="5.95" fill="#fc6f7b"/>
<circle cx="130.68" cy="1036.20" r="5.95" fill="#fc6f7b"/>
<circle cx="142.64" cy="983.50" r="5.95" fill="#fc6f7b"/>
<circle cx="154.60" cy="1025.50" r="5.95" fill="#fc6f7b"/>
<circle cx="166.55" cy="975.10" r="5.95" fill="#fc6f7b"/>
<circle cx="178.51" cy="987.50" r="5.95" fill="#fc6f7b"/>
<circle cx="190.47" cy="1022.60" r="5.95" fill="#fc6f7b"/>
<circle cx="202.43" cy="1015.80" r="5.95" fill="#fc6f7b"/>
<circle cx="214.39" cy="1033.90" r="5.95" fill="#fc6f7b"/>
<circle cx="226.34" cy="981.20" r="5.95" fill="#fc6f7b"/>
<circle cx="238.30" cy="995.40" r="5.95" fill="#fc6f7b"/>
<circle cx="250.26" cy="995.40" r="5.95" fill="#fc6f7b"/>
<circle cx="262.22" cy="1016.50" r="5.95" fill="#fc6f7b"/>
<circle cx="274.18" cy="1040.30" r="5.95" fill="#fc6f7b"/>
<circle cx="286.13" cy="1008.30" r="5.95" fill="#fc6f7b"/>
<circle cx="298.09" cy="1042.50" r="5.95" fill="#fc6f7b"/>
<circle cx="310.05" cy="1005.60" r="5.95" fill="#fc6f7b"/>
<circle cx="322.01" cy="1016.50" r="5.95" fill="#fc6f7b"/>
<circle cx="333.96" cy="957.40" r="5.95" fill="#fc6f7b"/>
<circle cx="345.92" cy="975.10" r="5.95" fill="#fc6f7b"/>
<circle cx="357.88" cy="1006.30" r="5.95" fill="#fc6f7b"/>
<circle cx="369.84" cy="997.00" r="5.95" fill="#fc6f7b"/>
<circle cx="381.80" cy="992.10" r="5.95" fill="#fc6f7b"/>
<circle cx="393.75" cy="995.40" r="5.95" fill="#fc6f7b"/>
<circle cx="405.71" cy="1023.10" r="5.95" fill="#fc6f7b"/>
<circle cx="417.67" cy="939.30" r="5.95" fill="#fc6f7b"/>
<circle cx="429.63" cy="954.70" r="5.95" fill="#fc6f7b"/>
<circle cx="441.59" cy="937.70" r="5.95" fill="#fc6f7b"/>
<circle cx="453.54" cy="952.40" r="5.95" fill="#fc6f7b"/>
<circle cx="465.50" cy="981.20" r="5.95" fill="#fc6f7b"/>
<circle cx="477.46" cy="939.30" r="5.95" fill="#fc6f7b"/>
<circle cx="489.42" cy="925.30" r="5.95" fill="#fc6f7b"/>
<circle cx="501.37" cy="1037.30" r="5.95" fill="#fc6f7b"/>
<circle cx="513.33" cy="1019.20" r="5.95" fill="#fc6f7b"/>
<circle cx="525.29" cy="1026.40" r="5.95" fill="#fc6f7b"/>
<circle cx="537.25" cy="999.30" r="5.95" fill="#fc6f7b"/>
<circle cx="549.21" cy="1004.50" r="5.95" fill="#fc6f7b"/>
<circle cx="561.16" cy="1015.10" r="5.95" fill="#fc6f7b"/>
<circle cx="573.12" cy="1010.80" r="5.95" fill="#fc6f7b"/>
<circle cx="585.08" cy="1019.20" r="5.95" fill="#fc6f7b"/>
<circle cx="597.04" cy="1038.40" r="5.95" fill="#fc6f7b"/>
<circle cx="609.00" cy="1049.80" r="5.95" fill="#fc6f7b"/>
<circle cx="620.95" cy="1047.50" r="5.95" fill="#fc6f7b"/>
<circle cx="632.91" cy="1050.90" r="5.95" fill="#fc6f7b"/>
<circle cx="644.87" cy="1058.80" r="5.95" fill="#fc6f7b"/>
<circle cx="656.83" cy="1043.40" r="5.95" fill="#fc6f7b"/>
<circle cx="668.78" cy="1053.80" r="5.95" fill="#fc6f7b"/>
<circle cx="680.74" cy="1063.80" r="5.95" fill="#fc6f7b"/>
<circle cx="692.70" cy="1043.00" r="5.95" fill="#fc6f7b"/>
</g>
<g clip-path="url(#clip2)">
<polyline points="82.85,1090.00 94.81,875.50 106.77,875.50 118.72,875.50 130.68,853.50 142.64,812.10 154.60,871.00 166.55,883.00 178.51,904.90 190.47,918.70 202.43,858.10 214.39,880.00 226.34,846.80 238.30,875.40 250.26,798.20 262.22,781.90 274.18,810.60 286.13,906.30 298.09,841.20 310.05,878.00 322.01,816.30 333.96,735.50 345.92,838.00 357.88,859.50 369.84,840.70 381.80,879.20 393.75,866.20 405.71,946.80 417.67,840.20 429.63,807.80 441.59,761.60 453.54,906.60 465.50,851.30 477.46,816.40 489.42,696.20 501.37,767.80 513.33,676.40 525.29,746.30 537.25,801.90 549.21,801.70 561.16,807.90 573.12,792.10 585.08,772.40 597.04,850.90 609.00,894.30 620.95,853.20 632.91,859.90 644.87,826.40 656.83,751.30 668.78,793.90 680.74,822.60 692.70,829.40" fill="none" stroke="#42ba4b" stroke-width="2.45" stroke-linejoin="round" stroke-linecap="square"/>
<polygon points="82.85,1084.90 84.00,1088.42 87.70,1088.42 84.70,1090.60 85.85,1094.13 82.85,1091.95 79.85,1094.13 81.00,1090.60 78.00,1088.42 81.70,1088.42" fill="#42ba4b" stroke="#42ba4b" stroke-width="1.7" stroke-linejoin="bevel"/>
<polygon points="94.81,870.40 95.95,873.92 99.66,873.92 96.66,876.10 97.81,879.63 94.81,877.45 91.81,879.63 92.96,876.10 89.96,873.92 93.66,873.92" fill="#42ba4b" stroke="#42ba4b" stroke-width="1.7" stroke-linejoin="bevel"/>
<polygon points="106.77,870.40 107.91,873.92 111.62,873.92 108.62,876.10 109.76,879.63 106.77,877.45 103.77,879.63 104.91,876.10 101.92,873.92 105.62,873.92" fill="#42ba4b" stroke="#42ba4b" stroke-width="1.7" stroke-linejoin="bevel"/>
<polygon points="118.72,870.40 119.87,873.92 123.57,873.92 120.58,876.10 121.72,879.63 118.72,877.45 115.73,879.63 116.87,876.10 113.87,873.92 117.58,873.92" fill="#42ba4b" stroke="#42ba4b" stroke-width="1.7" stroke-linejoin="bevel"/>
<polygon points="130.68,848.40 131.83,851.92 135.53,851.92 132.53,854.10 133.68,857.63 130.68,855.45 127.68,857.63 128.83,854.10 125.83,851.92 129.54,851.92" fill="#42ba4b" stroke="#42ba4b" stroke-width="1.7" stroke-linejoin="bevel"/>
<polygon points="142.64,807.00 143.78,810.52 147.49,810.52 144.49,812.70 145.64,816.23 142.64,814.05 139.64,816.23 140.79,812.70 137.79,810.52 141.49,810.52" fill="#42ba4b" stroke="#42ba4b" stroke-width="1.7" stroke-linejoin="bevel"/>
<polygon points="154.60,865.90 155.74,869.42 159.45,869.42 156.45,871.60 157.59,875.13 154.60,872.95 151.60,875.13 152.74,871.60 149.75,869.42 153.45,869.42" fill="#42ba4b" stroke="#42ba4b" stroke-width="1.7" stroke-linejoin="bevel"/>
<polygon points="166.55,877.90 167.70,881.42 171.41,881.42 168.41,883.60 169.55,887.13 166.55,884.95 163.56,887.13 164.70,883.60 161.70,881.42 165.41,881.42" fill="#42ba4b" stroke="#42ba4b" stroke-width="1.7" stroke-linejoin="bevel"/>
<polygon points="178.51,899.80 179.66,903.32 183.36,903.32 180.37,905.50 181.51,909.03 178.51,906.85 175.52,909.03 176.66,905.50 173.66,903.32 177.37,903.32" fill="#42ba4b" stroke="#42ba4b" stroke-width="1.7" stroke-linejoin="bevel"/>
<polygon points="190.47,913.60 191.62,917.12 195.32,917.12 192.32,919.30 193.47,922.83 190.47,920.65 187.47,922.83 188.62,919.30 185.62,917.12 189.33,917.12" fill="#42ba4b" stroke="#42ba4b" stroke-width="1.7" stroke-linejoin="bevel"/>
<polygon points="202.43,853.00 203.57,856.52 207.28,856.52 204.28,858.70 205.43,862.23 202.43,860.05 199.43,862.23 200.58,858.70 197.58,856.52 201.28,856.52" fill="#42ba4b" stroke="#42ba4b" stroke-width="1.7" stroke-linejoin="bevel"/>
<polygon points="214.39,874.90 215.53,878.42 219.24,878.42 216.24,880.60 217.38,884.13 214.39,881.95 211.39,884.13 212.53,880.60 209.54,878.42 213.24,878.42" fill="#42ba4b" stroke="#42ba4b" stroke-width="1.7" stroke-linejoin="bevel"/>
<polygon points="226.34,841.70 227.49,845.22 231.19,845.22 228.20,847.40 229.34,850.93 226.34,848.75 223.35,850.93 224.49,847.40 221.49,845.22 225.20,845.22" fill="#42ba4b" stroke="#42ba4b" stroke-width="1.7" stroke-linejoin="bevel"/>
<polygon points="238.30,870.30 239.45,873.82 243.15,873.82 240.15,876.00 241.30,879.53 238.30,877.35 235.30,879.53 236.45,876.00 233.45,873.82 237.16,873.82" fill="#42ba4b" stroke="#42ba4b" stroke-width="1.7" stroke-linejoin="bevel"/>
<polygon points="250.26,793.10 251.40,796.62 255.11,796.62 252.11,798.80 253.26,802.33 250.26,800.15 247.26,802.33 248.41,798.80 245.41,796.62 249.11,796.62" fill="#42ba4b" stroke="#42ba4b" stroke-width="1.7" stroke-linejoin="bevel"/>
<polygon points="262.22,776.80 263.36,780.32 267.07,780.32 264.07,782.50 265.22,786.03 262.22,783.85 259.22,786.03 260.36,782.50 257.37,780.32 261.07,780.32" fill="#42ba4b" stroke="#42ba4b" stroke-width="1.7" stroke-linejoin="bevel"/>
<polygon points="274.18,805.50 275.32,809.02 279.03,809.02 276.03,811.20 277.17,814.73 274.18,812.55 271.18,814.73 272.32,811.20 269.33,809.02 273.03,809.02" fill="#42ba4b" stroke="#42ba4b" stroke-width="1.7" stroke-linejoin="bevel"/>
<polygon points="286.13,901.20 287.28,904.72 290.98,904.72 287.99,906.90 289.13,910.43 286.13,908.25 283.14,910.43 284.28,906.90 281.28,904.72 284.99,904.72" fill="#42ba4b" stroke="#42ba4b" stroke-width="1.7" stroke-linejoin="bevel"/>
<polygon points="298.09,836.10 299.24,839.62 302.94,839.62 299.94,841.80 301.09,845.33 298.09,843.15 295.09,845.33 296.24,841.80 293.24,839.62 296.95,839.62" fill="#42ba4b" stroke="#42ba4b" stroke-width="1.7" stroke-linejoin="bevel"/>
<polygon points="310.05,872.90 311.19,876.42 314.90,876.42 311.90,878.60 313.05,882.13 310.05,879.95 307.05,882.13 308.20,878.60 305.20,876.42 308.90,876.42" fill="#42ba4b" stroke="#42ba4b" stroke-width="1.7" stroke-linejoin="bevel"/>
<polygon points="322.01,811.20 323.15,814.72 326.86,814.72 323.86,816.90 325.00,820.43 322.01,818.25 319.01,820.43 320.15,816.90 317.16,814.72 320.86,814.72" fill="#42ba4b" stroke="#42ba4b" stroke-width="1.7" stroke-linejoin="bevel"/>
<polygon points="333.96,730.40 335.11,733.92 338.82,733.92 335.82,736.10 336.96,739.63 333.96,737.45 330.97,739.63 332.11,736.10 329.11,733.92 332.82,733.92" fill="#42ba4b" stroke="#42ba4b" stroke-width="1.7" stroke-linejoin="bevel"/>
<polygon points="345.92,832.90 347.07,836.42 350.77,836.42 347.78,838.60 348.92,842.13 345.92,839.95 342.92,842.13 344.07,838.60 341.07,836.42 344.78,836.42" fill="#42ba4b" stroke="#42ba4b" stroke-width="1.7" stroke-linejoin="bevel"/>
<polygon points="357.88,854.40 359.03,857.92 362.73,857.92 359.73,860.10 360.88,863.63 357.88,861.45 354.88,863.63 356.03,860.10 353.03,857.92 356.74,857.92" fill="#42ba4b" stroke="#42ba4b" stroke-width="1.7" stroke-linejoin="bevel"/>
<polygon points="369.84,835.60 370.98,839.12 374.69,839.12 371.69,841.30 372.84,844.83 369.84,842.65 366.84,844.83 367.99,841.30 364.99,839.12 368.69,839.12" fill="#42ba4b" stroke="#42ba4b" stroke-width="1.7" stroke-linejoin="bevel"/>
<polygon points="381.80,874.10 382.94,877.62 386.65,877.62 383.65,879.80 384.79,883.33 381.80,881.15 378.80,883.33 379.94,879.80 376.95,877.62 380.65,877.62" fill="#42ba4b" stroke="#42ba4b" stroke-width="1.7" stroke-linejoin="bevel"/>
<polygon points="393.75,861.10 394.90,864.62 398.60,864.62 395.61,866.80 396.75,870.33 393.75,868.15 390.76,870.33 391.90,866.80 388.90,864.62 392.61,864.62" fill="#42ba4b" stroke="#42ba4b" stroke-width="1.7" stroke-linejoin="bevel"/>
<polygon points="405.71,941.70 406.86,945.22 410.56,945.22 407.56,947.40 408.71,950.93 405.71,948.75 402.71,950.93 403.86,947.40 400.86,945.22 404.57,945.22" fill="#42ba4b" stroke="#42ba4b" stroke-width="1.7" stroke-linejoin="bevel"/>
<polygon points="417.67,835.10 418.81,838.62 422.52,838.62 419.52,840.80 420.67,844.33 417.67,842.15 414.67,844.33 415.82,840.80 412.82,838.62 416.52,838.62" fill="#42ba4b" stroke="#42ba4b" stroke-width="1.7" stroke-linejoin="bevel"/>
<polygon points="429.63,802.70 430.77,806.22 434.48,806.22 431.48,808.40 432.63,811.93 429.63,809.75 426.63,811.93 427.77,808.40 424.78,806.22 428.48,806.22" fill="#42ba4b" stroke="#42ba4b" stroke-width="1.7" stroke-linejoin="bevel"/>
<polygon points="441.59,756.50 442.73,760.02 446.44,760.02 443.44,762.20 444.58,765.73 441.59,763.55 438.59,765.73 439.73,762.20 436.73,760.02 440.44,760.02" fill="#42ba4b" stroke="#42ba4b" stroke-width="1.7" stroke-linejoin="bevel"/>
<polygon points="453.54,901.50 454.69,905.02 458.39,905.02 455.40,907.20 456.54,910.73 453.54,908.55 450.55,910.73 451.69,907.20 448.69,905.02 452.40,905.02" fill="#42ba4b" stroke="#42ba4b" stroke-width="1.7" stroke-linejoin="bevel"/>
<polygon points="465.50,846.20 466.65,849.72 470.35,849.72 467.35,851.90 468.50,855.43 465.50,853.25 462.50,855.43 463.65,851.90 460.65,849.72 464.36,849.72" fill="#42ba4b" stroke="#42ba4b" stroke-width="1.7" stroke-linejoin="bevel"/>
<polygon points="477.46,811.30 478.60,814.82 482.31,814.82 479.31,817.00 480.46,820.53 477.46,818.35 474.46,820.53 475.61,817.00 472.61,814.82 476.31,814.82" fill="#42ba4b" stroke="#42ba4b" stroke-width="1.7" stroke-linejoin="bevel"/>
<polygon points="489.42,691.10 490.56,694.62 494.27,694.62 491.27,696.80 492.41,700.33 489.42,698.15 486.42,700.33 487.56,696.80 484.57,694.62 488.27,694.62" fill="#42ba4b" stroke="#42ba4b" stroke-width="1.7" stroke-linejoin="bevel"/>
<polygon points="501.37,762.70 502.52,766.22 506.22,766.22 503.23,768.40 504.37,771.93 501.37,769.75 498.38,771.93 499.52,768.40 496.52,766.22 500.23,766.22" fill="#42ba4b" stroke="#42ba4b" stroke-width="1.7" stroke-linejoin="bevel"/>
<polygon points="513.33,671.30 514.48,674.82 518.18,674.82 515.19,677.00 516.33,680.53 513.33,678.35 510.33,680.53 511.48,677.00 508.48,674.82 512.19,674.82" fill="#42ba4b" stroke="#42ba4b" stroke-width="1.7" stroke-linejoin="bevel"/>
<polygon points="525.29,741.20 526.44,744.72 530.14,744.72 527.14,746.90 528.29,750.43 525.29,748.25 522.29,750.43 523.44,746.90 520.44,744.72 524.15,744.72" fill="#42ba4b" stroke="#42ba4b" stroke-width="1.7" stroke-linejoin="bevel"/>
<polygon points="537.25,796.80 538.39,800.32 542.10,800.32 539.10,802.50 540.25,806.03 537.25,803.85 534.25,806.03 535.40,802.50 532.40,800.32 536.10,800.32" fill="#42ba4b" stroke="#42ba4b" stroke-width="1.7" stroke-linejoin="bevel"/>
<polygon points="549.21,796.60 550.35,800.12 554.06,800.12 551.06,802.30 552.20,805.83 549.21,803.65 546.21,805.83 547.35,802.30 544.36,800.12 548.06,800.12" fill="#42ba4b" stroke="#42ba4b" stroke-width="1.7" stroke-linejoin="bevel"/>
<polygon points="561.16,802.80 562.31,806.32 566.01,806.32 563.02,808.50 564.16,812.03 561.16,809.85 558.17,812.03 559.31,808.50 556.31,806.32 560.02,806.32" fill="#42ba4b" stroke="#42ba4b" stroke-width="1.7" stroke-linejoin="bevel"/>
<polygon points="573.12,787.00 574.27,790.52 577.97,790.52 574.97,792.70 576.12,796.23 573.12,794.05 570.12,796.23 571.27,792.70 568.27,790.52 571.98,790.52" fill="#42ba4b" stroke="#42ba4b" stroke-width="1.7" stroke-linejoin="bevel"/>
<polygon points="585.08,767.30 586.22,770.82 589.93,770.82 586.93,773.00 588.08,776.53 585.08,774.35 582.08,776.53 583.23,773.00 580.23,770.82 583.93,770.82" fill="#42ba4b" stroke="#42ba4b" stroke-width="1.7" stroke-linejoin="bevel"/>
<polygon points="597.04,845.80 598.18,849.32 601.89,849.32 598.89,851.50 600.03,855.03 597.04,852.85 594.04,855.03 595.18,851.50 592.19,849.32 595.89,849.32" fill="#42ba4b" stroke="#42ba4b" stroke-width="1.7" stroke-linejoin="bevel"/>
<polygon points="609.00,889.20 610.14,892.72 613.85,892.72 610.85,894.90 611.99,898.43 609.00,896.25 606.00,898.43 607.14,894.90 604.14,892.72 607.85,892.72" fill="#42ba4b" stroke="#42ba4b" stroke-width="1.7" stroke-linejoin="bevel"/>
<polygon points="620.95,848.10 622.10,851.62 625.80,851.62 622.81,853.80 623.95,857.33 620.95,855.15 617.96,857.33 619.10,853.80 616.10,851.62 619.81,851.62" fill="#42ba4b" stroke="#42ba4b" stroke-width="1.7" stroke-linejoin="bevel"/>
<polygon points="632.91,854.80 634.06,858.32 637.76,858.32 634.76,860.50 635.91,864.03 632.91,861.85 629.91,864.03 631.06,860.50 628.06,858.32 631.77,858.32" fill="#42ba4b" stroke="#42ba4b" stroke-width="1.7" stroke-linejoin="bevel"/>
<polygon points="644.87,821.30 646.01,824.82 649.72,824.82 646.72,827.00 647.87,830.53 644.87,828.35 641.87,830.53 643.02,827.00 640.02,824.82 643.72,824.82" fill="#42ba4b" stroke="#42ba4b" stroke-width="1.7" stroke-linejoin="bevel"/>
<polygon points="656.83,746.20 657.97,749.72 661.68,749.72 658.68,751.90 659.82,755.43 656.83,753.25 653.83,755.43 654.97,751.90 651.98,749.72 655.68,749.72" fill="#42ba4b" stroke="#42ba4b" stroke-width="1.7" stroke-linejoin="bevel"/>
<polygon points="668.78,788.80 669.93,792.32 673.63,792.32 670.64,794.50 671.78,798.03 668.78,795.85 665.79,798.03 666.93,794.50 663.93,792.32 667.64,792.32" fill="#42ba4b" stroke="#42ba4b" stroke-width="1.7" stroke-linejoin="bevel"/>
<polygon points="680.74,817.50 681.89,821.02 685.59,821.02 682.59,823.20 683.74,826.73 680.74,824.55 677.74,826.73 678.89,823.20 675.89,821.02 679.60,821.02" fill="#42ba4b" stroke="#42ba4b" stroke-width="1.7" stroke-linejoin="bevel"/>
<polygon points="692.70,824.30 693.85,827.82 697.55,827.82 694.55,830.00 695.70,833.53 692.70,831.35 689.70,833.53 690.85,830.00 687.85,827.82 691.55,827.82" fill="#42ba4b" stroke="#42ba4b" stroke-width="1.7" stroke-linejoin="bevel"/>
</g>
<rect x="82.85" y="656.45" width="609.85" height="453.45000000000005" fill="none" stroke="#111" stroke-width="1.3"/>
<line x1="76.85" x2="82.85" y1="1090.30" y2="1090.30" stroke="#111" stroke-width="1.3"/>
<text transform="translate(70.05,1096.10) scale(1.02,1)" font-size="16.5" text-anchor="end" fill="#1a1a1a" stroke="#1a1a1a" stroke-width="0.3">0.00</text>
<line x1="76.85" x2="82.85" y1="1015.02" y2="1015.02" stroke="#111" stroke-width="1.3"/>
<text transform="translate(70.05,1020.82) scale(1.02,1)" font-size="16.5" text-anchor="end" fill="#1a1a1a" stroke="#1a1a1a" stroke-width="0.3">0.02</text>
<line x1="76.85" x2="82.85" y1="939.74" y2="939.74" stroke="#111" stroke-width="1.3"/>
<text transform="translate(70.05,945.54) scale(1.02,1)" font-size="16.5" text-anchor="end" fill="#1a1a1a" stroke="#1a1a1a" stroke-width="0.3">0.04</text>
<line x1="76.85" x2="82.85" y1="864.46" y2="864.46" stroke="#111" stroke-width="1.3"/>
<text transform="translate(70.05,870.26) scale(1.02,1)" font-size="16.5" text-anchor="end" fill="#1a1a1a" stroke="#1a1a1a" stroke-width="0.3">0.06</text>
<line x1="76.85" x2="82.85" y1="789.18" y2="789.18" stroke="#111" stroke-width="1.3"/>
<text transform="translate(70.05,794.98) scale(1.02,1)" font-size="16.5" text-anchor="end" fill="#1a1a1a" stroke="#1a1a1a" stroke-width="0.3">0.08</text>
<line x1="76.85" x2="82.85" y1="713.90" y2="713.90" stroke="#111" stroke-width="1.3"/>
<text transform="translate(70.05,719.70) scale(1.02,1)" font-size="16.5" text-anchor="end" fill="#1a1a1a" stroke="#1a1a1a" stroke-width="0.3">0.10</text>
<line x1="82.85" x2="82.85" y1="1109.9" y2="1115.9" stroke="#111" stroke-width="1.3"/>
<text transform="translate(82.85,1134.70) scale(1.02,1)" font-size="16.5" text-anchor="middle" fill="#1a1a1a" stroke="#1a1a1a" stroke-width="0.3">0</text>
<line x1="167.55" x2="167.55" y1="1109.9" y2="1115.9" stroke="#111" stroke-width="1.3"/>
<text transform="translate(167.55,1134.70) scale(1.02,1)" font-size="16.5" text-anchor="middle" fill="#1a1a1a" stroke="#1a1a1a" stroke-width="0.3">200</text>
<line x1="252.25" x2="252.25" y1="1109.9" y2="1115.9" stroke="#111" stroke-width="1.3"/>
<text transform="translate(252.25,1134.70) scale(1.02,1)" font-size="16.5" text-anchor="middle" fill="#1a1a1a" stroke="#1a1a1a" stroke-width="0.3">400</text>
<line x1="336.95" x2="336.95" y1="1109.9" y2="1115.9" stroke="#111" stroke-width="1.3"/>
<text transform="translate(336.95,1134.70) scale(1.02,1)" font-size="16.5" text-anchor="middle" fill="#1a1a1a" stroke="#1a1a1a" stroke-width="0.3">600</text>
<line x1="421.66" x2="421.66" y1="1109.9" y2="1115.9" stroke="#111" stroke-width="1.3"/>
<text transform="translate(421.66,1134.70) scale(1.02,1)" font-size="16.5" text-anchor="middle" fill="#1a1a1a" stroke="#1a1a1a" stroke-width="0.3">800</text>
<line x1="506.36" x2="506.36" y1="1109.9" y2="1115.9" stroke="#111" stroke-width="1.3"/>
<text transform="translate(506.36,1134.70) scale(1.02,1)" font-size="16.5" text-anchor="middle" fill="#1a1a1a" stroke="#1a1a1a" stroke-width="0.3">1000</text>
<line x1="591.06" x2="591.06" y1="1109.9" y2="1115.9" stroke="#111" stroke-width="1.3"/>
<text transform="translate(591.06,1134.70) scale(1.02,1)" font-size="16.5" text-anchor="middle" fill="#1a1a1a" stroke="#1a1a1a" stroke-width="0.3">1200</text>
<line x1="675.76" x2="675.76" y1="1109.9" y2="1115.9" stroke="#111" stroke-width="1.3"/>
<text transform="translate(675.76,1134.70) scale(1.02,1)" font-size="16.5" text-anchor="middle" fill="#1a1a1a" stroke="#1a1a1a" stroke-width="0.3">1400</text>
<text transform="translate(387.78,1159.40) scale(1.02,1)" font-size="16.5" text-anchor="middle" fill="#1a1a1a" stroke="#1a1a1a" stroke-width="0.3">Time/min</text>
<text transform="translate(20.70,883.68) rotate(-90) scale(1.0,1)" font-size="17.0" text-anchor="middle" fill="#1a1a1a" stroke="#1a1a1a" stroke-width="0.3">Vars of nodes</text>
<rect x="91.4" y="665.85" width="174.8" height="81.6" rx="3.4" fill="#fff" fill-opacity="0.8" stroke="#ccc" stroke-opacity="0.8" stroke-width="1.35"/>
<line x1="97.2" x2="132.6" y1="678.35" y2="678.35" stroke="#1598ce" stroke-width="2.45"/>
<path d="M109.80,673.25L120.00,683.45M109.80,683.45L120.00,673.25" stroke="#1598ce" stroke-width="1.95" fill="none"/>
<text transform="translate(146.30,684.65) scale(1.02,1)" font-size="16.5" text-anchor="start" fill="#1a1a1a" stroke="#1a1a1a" stroke-width="0.3">RP-LBM-DQN</text>
<line x1="97.2" x2="132.6" y1="704.10" y2="704.10" stroke="#fc6f7b" stroke-width="2.45"/>
<circle cx="114.90" cy="704.10" r="5.95" fill="#fc6f7b"/>
<text transform="translate(146.30,710.40) scale(1.02,1)" font-size="16.5" text-anchor="start" fill="#1a1a1a" stroke="#1a1a1a" stroke-width="0.3">RP-LBM-PPO</text>
<line x1="97.2" x2="132.6" y1="729.85" y2="729.85" stroke="#42ba4b" stroke-width="2.45"/>
<polygon points="114.90,724.75 116.05,728.27 119.75,728.27 116.75,730.45 117.90,733.98 114.90,731.80 111.90,733.98 113.05,730.45 110.05,728.27 113.75,728.27" fill="#42ba4b" stroke="#42ba4b" stroke-width="1.7" stroke-linejoin="bevel"/>
<text transform="translate(146.30,736.15) scale(1.02,1)" font-size="16.5" text-anchor="start" fill="#1a1a1a" stroke="#1a1a1a" stroke-width="0.3">NO-Migration</text>
<rect x="535.2" y="729.05" width="165.1" height="30.0" fill="#fff" fill-opacity="0.8" stroke="#000" stroke-opacity="0.8" stroke-width="1.7"/>
<text transform="translate(541.90,748.65) scale(1.037,1)" font-size="16.5" text-anchor="start" fill="#009a38" stroke="#009a38" stroke-width="0.3">Mean Var: 0.0683</text>
<rect x="535.2" y="930.60" width="165.1" height="31.7" fill="#fff" fill-opacity="0.8" stroke="#000" stroke-opacity="0.8" stroke-width="1.7"/>
<text transform="translate(541.90,951.05) scale(1.037,1)" font-size="16.5" text-anchor="start" fill="#0000ff" stroke="#0000ff" stroke-width="0.3">Mean Var: 0.0227</text>
<rect x="535.2" y="1072.90" width="165.1" height="32.0" fill="#fff" fill-opacity="0.8" stroke="#000" stroke-opacity="0.8" stroke-width="1.7"/>
<text transform="translate(541.90,1093.50) scale(1.037,1)" font-size="16.5" text-anchor="start" fill="#ff0000" stroke="#ff0000" stroke-width="0.3">Mean Var: 0.0211</text>
<text transform="translate(377.3,1201.9) scale(1.02,1)" font-size="25.5" text-anchor="middle" fill="#111" font-family='"Liberation Serif", "DejaVu Serif", serif'>(<tspan font-weight="bold">c</tspan>)</text>
</svg>
</body></html>
